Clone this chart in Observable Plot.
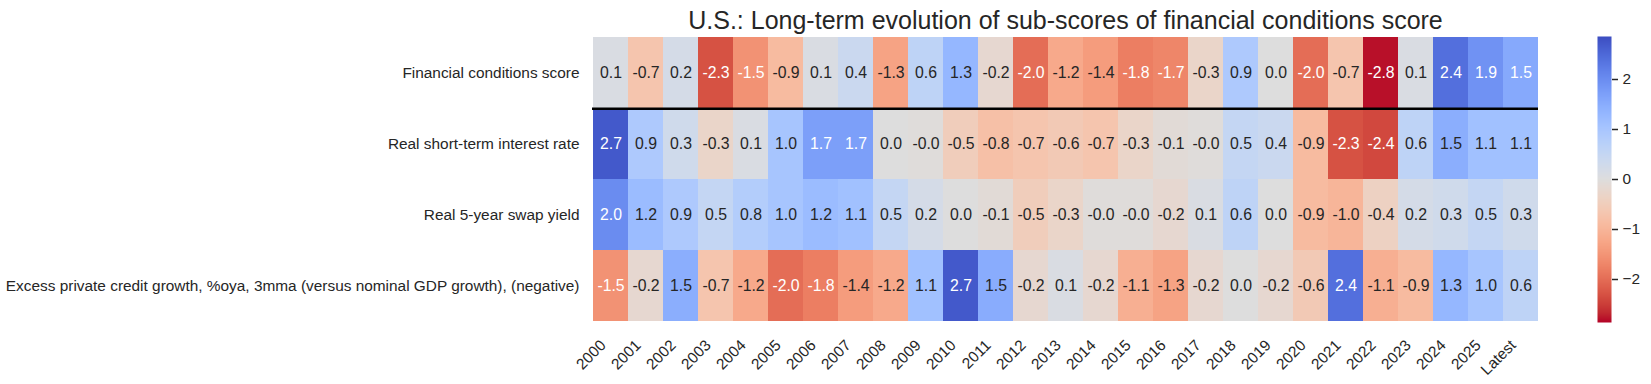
<!DOCTYPE html>
<html>
<head>
<meta charset="utf-8">
<script src="https://cdn.jsdelivr.net/npm/d3@7"></script>
<script src="https://cdn.jsdelivr.net/npm/@observablehq/plot@0.6"></script>
<style>
  body { margin: 0; background: #ffffff; }
  #chart { position: relative; width: 1651px; height: 384px; font-family: "Liberation Sans", Arial, sans-serif; }
  #chart svg { position: absolute; top: 0; overflow: visible; }
</style>
</head>
<body>
<div id="chart"></div>
<script>
// ---------- data ----------
const title = "U.S.: Long-term evolution of sub-scores of financial conditions score";
const years = ["2000","2001","2002","2003","2004","2005","2006","2007","2008","2009","2010","2011","2012",
  "2013","2014","2015","2016","2017","2018","2019","2020","2021","2022","2023","2024","2025","Latest"];
const rows = [
  "Financial conditions score",
  "Real short-term interest rate",
  "Real 5-year swap yield",
  "Excess private credit growth, %oya, 3mma (versus nominal GDP growth), (negative)"
];
const financialScore = [0.1,-0.7,0.2,-2.3,-1.54,-0.9,0.1,0.4,-1.3,0.6,1.3,-0.2,-2.0,-1.2,-1.4,-1.8,-1.7,-0.3,0.9,0.0,-2.0,-0.7,-2.8,0.1,2.4,1.9,1.54];
const realShortRate  = [2.7,0.9,0.3,-0.3,0.1,1.0,1.7,1.7,0.0,-0.04,-0.5,-0.8,-0.7,-0.6,-0.7,-0.3,-0.1,-0.04,0.5,0.4,-0.9,-2.3,-2.4,0.6,1.47,1.1,1.1];
const realSwapYield  = [2.0,1.2,0.9,0.5,0.8,1.0,1.2,1.1,0.5,0.2,0.0,-0.1,-0.5,-0.3,-0.04,-0.04,-0.2,0.1,0.6,0.0,-0.9,-1.0,-0.4,0.2,0.3,0.5,0.3];
const excessCredit   = [-1.54,-0.2,1.47,-0.7,-1.2,-2.0,-1.8,-1.4,-1.2,1.1,2.7,1.5,-0.2,0.1,-0.2,-1.1,-1.3,-0.2,0.0,-0.2,-0.6,2.4,-1.1,-0.9,1.3,1.0,0.6];
const seriesByRow = [financialScore, realShortRate, realSwapYield, excessCredit];
const colorbarTicks = [-2, -1, 0, 1, 2];
const colorLimit = 2.86;

// coolwarm_r colour stops (red for negative -> blue for positive)
const coolwarm = [
  [59,76,192],[68,90,204],[77,104,215],[87,117,225],[98,130,234],[108,142,241],[119,154,247],[130,165,251],
  [141,176,254],[152,185,255],[163,194,255],[174,201,253],[184,208,249],[194,213,244],[204,217,238],[213,219,230],
  [221,221,221],[229,216,209],[236,211,197],[241,204,185],[245,196,173],[247,187,160],[247,177,148],[247,166,135],
  [244,154,123],[241,141,111],[236,127,99],[229,112,88],[222,96,77],[213,80,66],[203,62,56],[192,40,47],[180,4,38]
].map(c => d3.rgb(...c)).reverse();
const interp = d3.piecewise(d3.interpolateRgb, coolwarm);

const table = rows.flatMap((row, i) => seriesByRow[i].map((value, j) => ({row, year: years[j], value})));

// ---------- helpers ----------
const toT = d3.scaleLinear().domain([-colorLimit, colorLimit]).range([0, 1]).clamp(true);
function luminance(v) {
  const c = d3.rgb(interp(toT(v)));
  const lin = x => { x /= 255; return x <= 0.03928 ? x / 12.92 : Math.pow((x + 0.055) / 1.055, 2.4); };
  return 0.2126 * lin(c.r) + 0.7152 * lin(c.g) + 0.0722 * lin(c.b);
}
const isDark = d => luminance(d.value) <= 0.408;
const fmt = d => d.value.toFixed(1);

// ---------- layout ----------
const W = 1651, H = 384;
const mL = 592, mR = 113, mT = 36, mB = 62;
const halfRow = (H - mT - mB) / rows.length / 2;
const font = "'Liberation Sans', Arial, sans-serif";
const ink = "#262626";
const colorScale = {type: "linear", domain: [-colorLimit, colorLimit], interpolate: interp};

const main = Plot.plot({
  width: W, height: H,
  marginLeft: mL, marginRight: mR, marginTop: mT, marginBottom: mB,
  style: {fontFamily: font, fontSize: "15.4px", color: ink, background: "transparent"},
  x: {type: "band", domain: years, padding: 0, label: null},
  y: {type: "band", domain: rows, padding: 0, label: null},
  color: colorScale,
  marks: [
    Plot.cell(table, {x: "year", y: "row", fill: "value"}),
    Plot.text(table, {x: "year", y: "row", text: fmt, filter: isDark, fill: "white", fontSize: 15.8}),
    Plot.text(table, {x: "year", y: "row", text: fmt, filter: d => !isDark(d), fill: ink, fontSize: 15.8}),
    Plot.ruleY([rows[0]], {y: d => d, dy: halfRow, stroke: "black", strokeWidth: 2.5}),
    Plot.axisY({tickSize: 0, tickPadding: 13, fontSize: 15.4}),
    Plot.axisX({tickSize: 0, tickRotate: -45, textAnchor: "end", lineAnchor: "top", tickPadding: 16, dx: -12, fontSize: 15.4}),
    Plot.text([title], {frameAnchor: "top", lineAnchor: "bottom", dy: -8, fontSize: 25, fill: ink})
  ]
});
main.style.left = "0px";

const cbar = Plot.plot({
  width: 54, height: H,
  marginLeft: 0, marginRight: 40, marginTop: mT, marginBottom: mB,
  style: {fontFamily: font, fontSize: "15.4px", color: ink, background: "transparent"},
  x: {domain: [0, 1], axis: null},
  y: {domain: [-colorLimit, colorLimit], axis: null},
  color: colorScale,
  marks: [
    Plot.raster({fill: (x, y) => y, x1: 0, x2: 1, y1: -colorLimit, y2: colorLimit, width: 1, height: 286, imageRendering: "pixelated"}),
    Plot.axisY(colorbarTicks, {anchor: "right", tickSize: 6, tickPadding: 5, fontSize: 15.4, strokeWidth: 1.5, tickFormat: d3.format("d")})
  ]
});
cbar.style.left = "1597px";

document.getElementById("chart").append(main, cbar);
</script>
</body>
</html>
